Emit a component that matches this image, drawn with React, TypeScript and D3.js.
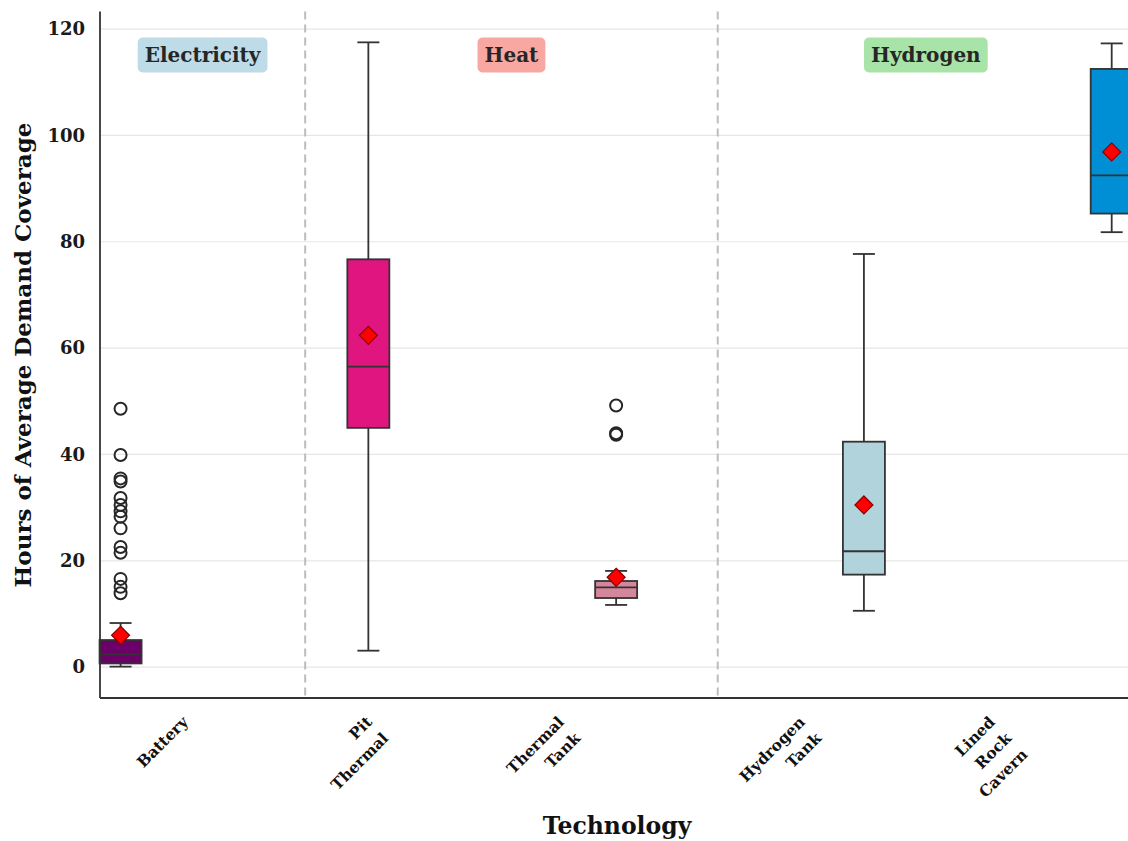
import { useEffect, useRef } from 'react';
import * as d3 from 'd3';

// Box statistics per technology (hours of average demand coverage)
const technologies = ['Battery', 'Pit Thermal', 'Thermal Tank', 'Hydrogen Tank', 'Lined Rock Cavern'];
const tickLabels = [['Battery'], ['Pit', 'Thermal'], ['Thermal', 'Tank'], ['Hydrogen', 'Tank'], ['Lined', 'Rock', 'Cavern']];
const whiskerLow = [0.1, 3.1, 11.7, 10.6, 81.8];
const q1 = [0.7, 45.0, 13.0, 17.4, 85.3];
const medians = [2.4, 56.5, 15.0, 21.8, 92.5];
const q3 = [5.1, 76.7, 16.2, 42.4, 112.5];
const whiskerHigh = [8.3, 117.5, 18.1, 77.7, 117.3];
const means = [6.0, 62.4, 16.9, 30.5, 96.9];
const outliers = [
  [48.6, 39.9, 35.5, 34.9, 31.8, 30.5, 29.3, 28.3, 26.1, 22.6, 21.5, 16.6, 15.1, 13.9],
  [],
  [49.2, 44.0, 43.7],
  [],
  [],
];
const boxColors = ['#6b0068', '#e0157f', '#d4869b', '#b0d3dc', '#008fd5'];

// Energy carrier groups
const groups = ['Electricity', 'Heat', 'Hydrogen'];
const groupColors = ['#bddce8', '#f9a8a1', '#a8e3a8'];
const groupBreaks = [0.745, 2.41];

const yTicks = [0, 20, 40, 60, 80, 100, 120];

export default function App() {
  const svgRef = useRef<SVGSVGElement>(null);

  useEffect(() => {
    if (!svgRef.current) return;
    const svg = d3.select(svgRef.current);
    svg.selectAll('*').remove();

    const font = "'DejaVu Serif', serif";
    const left = 100;
    const right = 1134;
    const top = 11.5;
    const bottom = 698;

    const xMin = -0.083;
    const xMax = 4.09;
    const x = d3.scaleLinear().domain([xMin, xMax]).range([left, right]);
    const y = d3.scaleLinear().domain([-5.8, 123.3]).range([bottom, top]);

    const g = svg.append('g');

    // Grid
    g.selectAll('.grid')
      .data(yTicks)
      .enter()
      .append('line')
      .attr('x1', left)
      .attr('x2', right)
      .attr('y1', d => y(d))
      .attr('y2', d => y(d))
      .attr('stroke', '#e6e6e6')
      .attr('stroke-width', 1.2);

    // Group separators
    g.selectAll('.sep')
      .data(groupBreaks)
      .enter()
      .append('line')
      .attr('x1', d => x(d))
      .attr('x2', d => x(d))
      .attr('y1', top)
      .attr('y2', bottom)
      .attr('stroke', '#bdbdbd')
      .attr('stroke-width', 2)
      .attr('stroke-dasharray', '8,5');

    // Group badges
    const bounds = [xMin, ...groupBreaks, xMax];
    groups.forEach((name, i) => {
      const cx = x((bounds[i] + bounds[i + 1]) / 2);
      const t = g.append('text')
        .attr('x', cx)
        .attr('y', 62)
        .attr('text-anchor', 'middle')
        .attr('font-family', font)
        .attr('font-weight', 'bold')
        .attr('font-size', 20)
        .attr('fill', '#262626')
        .text(name);
      const w = (t.node() as SVGTextElement).getComputedTextLength();
      g.insert('rect', () => t.node())
        .attr('x', cx - w / 2 - 7)
        .attr('y', 37.5)
        .attr('width', w + 14)
        .attr('height', 35)
        .attr('rx', 5)
        .attr('fill', groupColors[i]);
    });

    const boxW = 42;
    const capW = 22;

    technologies.forEach((_, i) => {
      const cx = x(i);
      // whiskers
      g.append('line')
        .attr('x1', cx).attr('x2', cx)
        .attr('y1', y(whiskerLow[i])).attr('y2', y(q1[i]))
        .attr('stroke', '#333').attr('stroke-width', 1.8);
      g.append('line')
        .attr('x1', cx).attr('x2', cx)
        .attr('y1', y(q3[i])).attr('y2', y(whiskerHigh[i]))
        .attr('stroke', '#333').attr('stroke-width', 1.8);
      [whiskerLow[i], whiskerHigh[i]].forEach(v => {
        g.append('line')
          .attr('x1', cx - capW / 2).attr('x2', cx + capW / 2)
          .attr('y1', y(v)).attr('y2', y(v))
          .attr('stroke', '#333').attr('stroke-width', 1.8);
      });
      // box
      g.append('rect')
        .attr('x', cx - boxW / 2)
        .attr('y', y(q3[i]))
        .attr('width', boxW)
        .attr('height', y(q1[i]) - y(q3[i]))
        .attr('fill', boxColors[i])
        .attr('stroke', '#333')
        .attr('stroke-width', 1.8);
      // median
      g.append('line')
        .attr('x1', cx - boxW / 2).attr('x2', cx + boxW / 2)
        .attr('y1', y(medians[i])).attr('y2', y(medians[i]))
        .attr('stroke', '#333').attr('stroke-width', 1.8);
      // outliers
      g.selectAll(null)
        .data(outliers[i])
        .enter()
        .append('circle')
        .attr('cx', cx)
        .attr('cy', d => y(d))
        .attr('r', 6)
        .attr('fill', 'none')
        .attr('stroke', '#262626')
        .attr('stroke-width', 2);
      // mean diamond
      const s = 9;
      const my = y(means[i]);
      g.append('path')
        .attr('d', `M${cx},${my - s}L${cx + s},${my}L${cx},${my + s}L${cx - s},${my}Z`)
        .attr('fill', '#ff0000')
        .attr('stroke', '#8b0000')
        .attr('stroke-width', 1.2);
    });

    // Spines
    g.append('line')
      .attr('x1', left).attr('x2', left)
      .attr('y1', top).attr('y2', bottom)
      .attr('stroke', '#333').attr('stroke-width', 1.8);
    g.append('line')
      .attr('x1', left).attr('x2', right)
      .attr('y1', bottom).attr('y2', bottom)
      .attr('stroke', '#333').attr('stroke-width', 1.8);

    // Y tick labels
    g.selectAll('.ytick')
      .data(yTicks)
      .enter()
      .append('text')
      .attr('x', 85)
      .attr('y', d => y(d))
      .attr('dy', '0.35em')
      .attr('text-anchor', 'end')
      .attr('font-family', font)
      .attr('font-weight', 'bold')
      .attr('font-size', 18)
      .attr('fill', '#1a1a1a')
      .text(d => d);

    // X tick labels, rotated 45 degrees, lines right-aligned
    const labelAnchorX = [189, 373, 565, 806, 996];
    tickLabels.forEach((lines, i) => {
      const lg = g.append('g')
        .attr('transform', `translate(${labelAnchorX[i]},723) rotate(-45)`);
      lines.forEach((line, k) => {
        lg.append('text')
          .attr('x', 0)
          .attr('y', k * 23)
          .attr('text-anchor', 'end')
          .attr('font-family', font)
          .attr('font-weight', 'bold')
          .attr('font-size', 15.5)
          .attr('fill', '#111')
          .text(line);
      });
    });

    // Axis titles
    svg.append('text')
      .attr('x', 617)
      .attr('y', 834)
      .attr('text-anchor', 'middle')
      .attr('font-family', font)
      .attr('font-weight', 'bold')
      .attr('font-size', 23.5)
      .attr('fill', '#111')
      .text('Technology');

    svg.append('text')
      .attr('transform', `translate(31,355) rotate(-90)`)
      .attr('text-anchor', 'middle')
      .attr('font-family', font)
      .attr('font-weight', 'bold')
      .attr('font-size', 23)
      .attr('fill', '#111')
      .text('Hours of Average Demand Coverage');
  }, []);

  return (
    <svg
      ref={svgRef}
      width={1128}
      height={841}
      style={{ position: 'absolute', left: 0, top: 0, background: '#fff' }}
    />
  );
}
